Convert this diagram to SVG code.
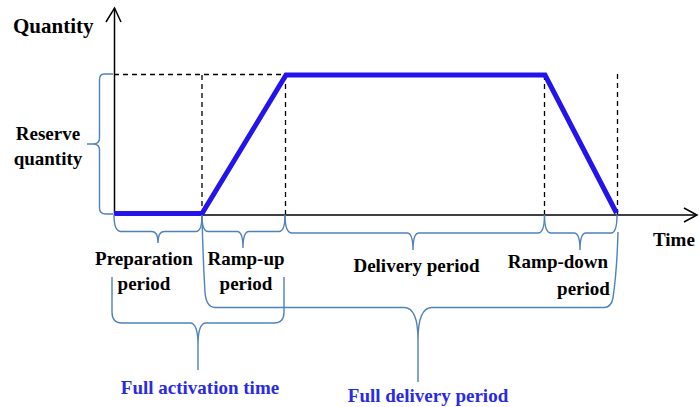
<svg xmlns="http://www.w3.org/2000/svg" width="699" height="407" viewBox="0 0 699 407">
<defs>
<style>
.axis{stroke:#000;stroke-width:1.5;fill:none}
.dash{stroke:#000;stroke-width:1.3;stroke-dasharray:5,4;fill:none}
.curve{stroke:#2414EC;stroke-width:5;fill:none;stroke-linejoin:miter}
.brace{stroke:#4F81BD;stroke-width:1.4;fill:none}
.lbl{font-weight:bold;font-size:19px;fill:#000}
.big{font-size:21px}
.blue{fill:#2A2AE6}
</style>
</defs>
<g id="axes">
<path class="axis" d="M114.5,215 V8"/>
<path class="axis" d="M106,22 L114.5,8 L121,22"/>
<path class="axis" d="M114,215 H697"/>
<path class="axis" d="M684,208 L697,215 L684,222"/>
</g>
<g id="guides">
<path class="dash" d="M114,74.5 H286"/>
<path class="dash" d="M202,75 V214"/>
<path class="dash" d="M285.5,75 V214"/>
<path class="dash" d="M544.5,75 V214"/>
<path class="dash" d="M617.5,74 V214"/>
</g>
<g id="profile">
<path class="curve" d="M114,213.5 H202 L286,75 H545 L616.5,213"/>
</g>
<g id="connectors">
<path class="brace" d="M113,74 H104 Q99.5,74 99.5,80 V138 Q99.5,144 93,144 H87 M93,144 Q99.5,144 99.5,150 V208 Q99.5,214 106,214 H113"/>
<path class="brace" d="M114,215 Q114,231.5 121,231.5 H152 Q158,231.5 158,243 M158,243 Q158,231.5 164,231.5 H196 Q202,231.5 202,215"/>
<path class="brace" d="M202,215 Q202,231.5 208,231.5 H237 Q243,231.5 243,248 M243,248 Q243,231.5 249,231.5 H279 Q285,231.5 285,215"/>
<path class="brace" d="M285,215 Q285,233 292,233 H407 Q413,233 413,250 M413,250 Q413,233 419,233 H538 Q544.5,233 544.5,215"/>
<path class="brace" d="M544.5,215 Q544.5,233 551,233 H574 Q580,233 580,250 M580,250 Q580,233 586,233 H611 Q617,233 617,215"/>
<path class="brace" d="M112,277 V312 Q112,323 122,323 H190 Q198,323 198,345 V370 M206,323 Q198,323 198,345 M284,277 V312 Q284,323 274,323 H206"/>
<path class="brace" d="M202,216 Q203,260 205,292 Q206,307 215,307.5 H404 Q418,307.5 418,340 V382 M432,307.5 Q418,307.5 418,340 M618,232 Q617,270 613,298 Q611,307.5 604,307.5 H432"/>
</g>
<g id="labels" font-family="'Liberation Serif', 'Times New Roman', serif">
<text class="lbl big" x="13" y="33">Quantity</text>
<text class="lbl" x="48" y="140" text-anchor="middle">Reserve</text>
<text class="lbl" x="48" y="165" text-anchor="middle">quantity</text>
<text class="lbl" x="653" y="246" font-size="20">Time</text>
<text class="lbl" x="144" y="265" text-anchor="middle">Preparation</text>
<text class="lbl" x="144" y="290" text-anchor="middle">period</text>
<text class="lbl" x="246" y="265" text-anchor="middle">Ramp-up</text>
<text class="lbl" x="246" y="290" text-anchor="middle">period</text>
<text class="lbl" x="416.5" y="272" text-anchor="middle">Delivery period</text>
<text class="lbl" x="558" y="268" text-anchor="middle">Ramp-down</text>
<text class="lbl" x="583.5" y="295" text-anchor="middle">period</text>
<text class="lbl blue" x="200" y="394" text-anchor="middle">Full activation time</text>
<text class="lbl blue" x="428" y="402" text-anchor="middle">Full delivery period</text>
</g>
</svg>
